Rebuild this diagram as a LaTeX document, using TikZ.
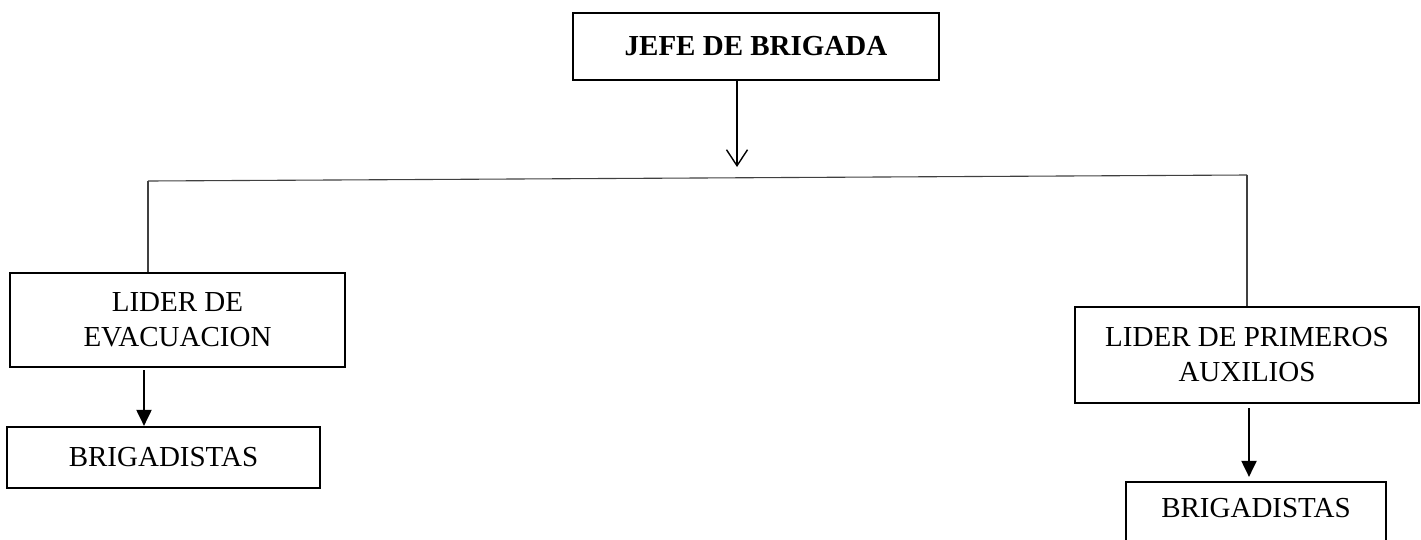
\documentclass[tikz,border=0pt]{standalone}
\usepackage{fontspec}
\setmainfont{Liberation Serif}
\usetikzlibrary{arrows.meta}
\begin{document}
\begin{tikzpicture}[x=1pt,y=-1pt,
  box/.style={draw,line width=2.2pt,inner sep=0pt,align=center,
    font=\fontsize{29}{35}\selectfont},
  thinline/.style={line width=1.1pt,draw=black!75},
  mainarrow/.style={line width=1.4pt,-{Straight Barb[length=16pt,width=21pt,line width=1.4pt]}},
  subarrow/.style={line width=2pt,-{Triangle[length=16pt,width=15pt]}}]
\useasboundingbox (0,0) rectangle (1421,539);
\clip (0,0) rectangle (1421,539);
\node[box,minimum width=366pt,minimum height=67pt,font=\fontsize{29}{35}\selectfont\bfseries] (jefe) at (756,46.5) {JEFE DE BRIGADA};
\node[box,minimum width=335pt,minimum height=94pt] (lev) at (177.5,320) {LIDER DE\\EVACUACION};
\node[box,minimum width=313pt,minimum height=61pt] (bev) at (163.5,457.5) {BRIGADISTAS};
\node[box,minimum width=344pt,minimum height=96pt] (lpa) at (1247,355) {LIDER DE PRIMEROS\\AUXILIOS};
\node[box,minimum width=260pt,minimum height=61pt,text depth=9pt] (bpa) at (1256,512.5) {BRIGADISTAS};
\coordinate (hl) at (148,181);
\coordinate (hr) at (1247,175);
\coordinate (mid) at (737,167);
\draw[mainarrow] (jefe.south -| mid) -- (mid);
\draw[thinline] (hl) -- (hr);
\draw[thinline] (hl) -- (hl |- lev.north);
\draw[thinline] (hr) -- (hr |- lpa.north);
\coordinate (la) at (144,0);
\coordinate (ra) at (1249,0);
\draw[subarrow] ([yshift=-2pt]la |- lev.south) -- (la |- bev.north);
\draw[subarrow] ([yshift=-4pt]ra |- lpa.south) -- ([yshift=4pt]ra |- bpa.north);
\end{tikzpicture}
\end{document}
